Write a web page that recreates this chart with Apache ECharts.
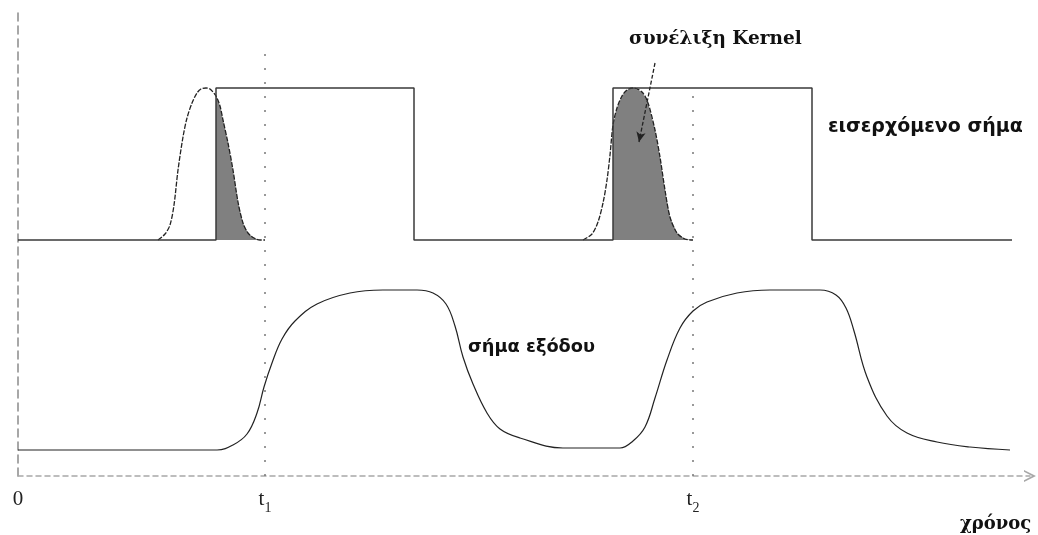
<!DOCTYPE html>
<html>
<head>
<meta charset="utf-8">
<script src="https://cdn.jsdelivr.net/npm/echarts@6/dist/echarts.min.js"></script>
<style>
  html, body { margin: 0; padding: 0; background: #fff; }
  #chart { width: 1038px; height: 535px; }
</style>
</head>
<body>
<div id="chart"></div>
<script>
// Time runs along x (0 .. 1012), signal level along y (0 .. 468), arbitrary units.
const tickValues = [0, 247, 675];
const tickLabels = ['0', 't1', 't2'];

// Incoming square-wave signal
const inputSignal = [
  [0, 236], [198, 236], [198, 388], [396, 388], [396, 236],
  [595, 236], [595, 388], [794, 388], [794, 236], [994, 236]
];

// Kernel placed before the first rising edge
const kernelA = [
  [140, 236], [147, 242], [152, 251], [156, 271], [160, 306], [165, 339],
  [169, 358], [174, 373], [179, 383], [183, 387], [188, 388], [192, 387],
  [198, 380], [202, 370], [205, 356], [210, 333], [215, 306], [220, 274],
  [225, 253], [230, 243], [236, 238], [242, 236], [247, 236]
];

// Kernel placed on the second pulse
const kernelB = [
  [565, 236], [574, 242], [580, 254], [585, 273], [589, 296], [592, 321],
  [595, 351], [599, 368], [604, 380], [609, 386], [615, 388], [624, 384],
  [630, 373], [637, 346], [642, 319], [647, 286], [652, 259], [659, 243],
  [667, 237], [675, 236]
];

// Smoothed output signal
const outputSignal = [
  [0, 26], [199, 26], [215, 31], [229, 42], [239, 63], [246, 89], [254, 113],
  [264, 137], [277, 155], [299, 172], [332, 183], [365, 186], [399, 186],
  [415, 183], [428, 172], [437, 150], [445, 119], [455, 92], [469, 63],
  [482, 47], [502, 38], [545, 28], [602, 28], [615, 35], [627, 49], [637, 78],
  [649, 116], [662, 148], [675, 165], [689, 174], [719, 183], [752, 186],
  [802, 186], [818, 181], [828, 168], [836, 145], [849, 99], [869, 60],
  [889, 43], [919, 34], [952, 29], [992, 26]
];

// Dotted guides at t1 and t2
const guideT1 = [[247, 0], [247, 434]];
const guideT2 = [[675, 0], [675, 391]];

// Annotation arrow pointing into the shaded overlap
const arrowFrom = [637, 413];
const arrowTo = [621, 334];

const edgeA = inputSignal[2][0];
const edgeB = inputSignal[6][0];
const baseLevel = inputSignal[0][1];

const chart = echarts.init(document.getElementById('chart'), null, { renderer: 'canvas' });

const labelRich = {
  a: { fontFamily: 'Liberation Serif', fontSize: 21, color: '#222', verticalAlign: 'bottom', padding: [0, 0, 5, 0] },
  b: { fontFamily: 'Liberation Serif', fontSize: 14, color: '#222', verticalAlign: 'bottom' }
};

const option = {
  animation: false,
  backgroundColor: '#fff',
  grid: { left: 18, right: 8, top: 8, bottom: 59, containLabel: false },
  xAxis: {
    type: 'value', min: 0, max: 1012,
    axisLine: {
      show: true,
      lineStyle: { color: '#a8a8a8', width: 1.5, type: [5, 4] },
      symbol: ['none', 'path://M0,10 L5,0 L10,10 L8.6,10 L5,3.2 L1.4,10 Z'],
      symbolSize: [12, 14]
    },
    axisTick: { show: false },
    splitLine: { show: false },
    axisLabel: {
      customValues: tickValues,
      margin: 13,
      formatter: function (v) {
        const s = tickLabels[tickValues.indexOf(v)] || '';
        if (s.length > 1) return '{a|' + s[0] + '}{b|' + s.slice(1) + '}';
        return '{a|' + s + '}';
      },
      rich: labelRich
    }
  },
  yAxis: {
    type: 'value', min: 0, max: 468,
    axisLine: { show: true, lineStyle: { color: '#8a8a8a', width: 1.5, type: [8, 5] } },
    axisTick: { show: false },
    axisLabel: { show: false },
    splitLine: { show: false }
  },
  series: [
    {
      name: 'guideT1', type: 'line', data: guideT1, symbol: 'none', silent: true,
      lineStyle: { color: '#777', width: 1.5, type: [2, 12] }
    },
    {
      name: 'guideT2', type: 'line', data: guideT2, symbol: 'none', silent: true,
      lineStyle: { color: '#777', width: 1.5, type: [2, 12] }
    },
    {
      name: 'overlapA', type: 'line', symbol: 'none', silent: true,
      data: kernelA.filter(p => p[0] >= edgeA),
      lineStyle: { width: 0 },
      areaStyle: { color: '#808080', opacity: 1, origin: baseLevel },
      z: 2
    },
    {
      name: 'overlapB', type: 'line', symbol: 'none', silent: true,
      data: kernelB.filter(p => p[0] >= edgeB),
      lineStyle: { width: 0 },
      areaStyle: { color: '#808080', opacity: 1, origin: baseLevel },
      z: 2
    },
    {
      name: 'kernelA', type: 'line', symbol: 'none', smooth: 0.3, data: kernelA,
      lineStyle: { color: '#222', width: 1.3, type: [5, 1.5] }, z: 3
    },
    {
      name: 'kernelB', type: 'line', symbol: 'none', smooth: 0.3, data: kernelB,
      lineStyle: { color: '#222', width: 1.3, type: [5, 1.5] }, z: 3,
      markLine: {
        silent: true,
        symbol: ['none', 'arrow'],
        symbolSize: [7, 10],
        label: { show: false },
        lineStyle: { color: '#222', width: 1.3, type: [4, 2] },
        data: [[{ coord: arrowFrom }, { coord: arrowTo }]]
      }
    },
    {
      name: 'input', type: 'line', symbol: 'none', data: inputSignal,
      lineStyle: { color: '#3a3a3a', width: 1.5 }, z: 4
    },
    {
      name: 'output', type: 'line', symbol: 'none', smooth: 0.4, data: outputSignal,
      lineStyle: { color: '#222', width: 1.2 }, z: 4
    }
  ],
  graphic: [
    {
      type: 'text', left: 629, top: 30,
      style: { text: 'συνέλιξη Kernel', fontFamily: 'DejaVu Serif', fontWeight: 'bold', fontSize: 18.5, fill: '#111' }
    },
    {
      type: 'text', left: 828, top: 118,
      style: { text: 'εισερχόμενο σήμα', fontFamily: 'DejaVu Sans', fontWeight: 'bold', fontSize: 19, fill: '#111' }
    },
    {
      type: 'text', left: 468, top: 338,
      style: { text: 'σήμα εξόδου', fontFamily: 'DejaVu Sans', fontWeight: 'bold', fontSize: 17.8, fill: '#111' }
    },
    {
      type: 'text', left: 960, top: 515,
      style: { text: 'χρόνος', fontFamily: 'DejaVu Serif', fontWeight: 'bold', fontSize: 18, fill: '#111' }
    }
  ]
};

chart.setOption(option);
</script>
</body>
</html>
